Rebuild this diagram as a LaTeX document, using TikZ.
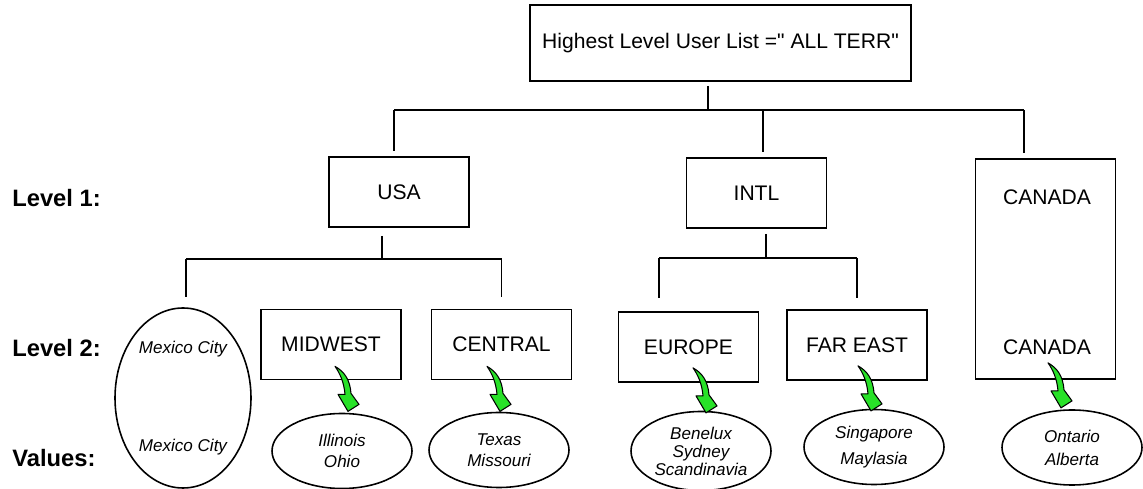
\documentclass[tikz,border=0pt]{standalone}
\usepackage{fontspec}
\setmainfont{Liberation Sans}[Ligatures=TeXOff]
\usetikzlibrary{shapes.geometric}
\definecolor{arrowgreen}{RGB}{40,225,40}
\tikzset{
  box/.style={draw, line width=1pt, minimum width=28mm, minimum height=14mm, inner sep=0pt, font=\fontsize{12}{14}\selectfont},
  vals/.style={draw, ellipse, line width=0.9pt, minimum width=28mm, minimum height=15mm, inner sep=0pt, align=center, font=\fontsize{9.7}{12}\selectfont\itshape},
  lvl/.style={anchor=base west, inner sep=0pt, font=\fontsize{13.5}{16}\selectfont\bfseries},
  conn/.style={line width=1pt},
  valarrow/.pic={
    \draw[fill=arrowgreen, line width=0.6pt, line join=round] (0,0) .. controls (9,5) and (15,13) .. (16,27) -- (24,38) -- (13,45) -- (3,28) -- (10,28) .. controls (9,16) and (5,7) .. (0,0) -- cycle;
  }
}
\begin{document}
\begin{tikzpicture}[x=0.2mm, y=-0.2mm]
\useasboundingbox (0,0) rectangle (1143,489);

% row labels
\node[lvl] (lvlA) at (12,207) {Level 1:};
\node[lvl] (lvlB) at (12,357) {Level 2:};
\node[lvl] (lvlC) at (12,467) {Values:};

% top of the tree
\node[box, minimum width=76.2mm, minimum height=15.2mm] (top) at (720.5,43) {Highest Level User List =" ALL TERR"};

% level 1
\node[box] (usa) at (399,192) {USA};
\node[box] (intl) at (756.5,193) {INTL};
\node[box, minimum height=44mm] (canada) at (1045.5,269) {};
\node[font=\fontsize{12}{14}\selectfont] (canadaA) at (1047,197) {CANADA};
\node[font=\fontsize{12}{14}\selectfont] (canadaB) at (1047,347) {CANADA};

% level 2
\node[vals, minimum width=27.2mm, minimum height=36mm] (mexico) at (183,398) {Mexico City\\[44pt]Mexico City};
\node[box] (midwest) at (331,344.5) {MIDWEST};
\node[box] (central) at (501.5,344.5) {CENTRAL};
\node[box] (europe) at (688.5,347) {EUROPE};
\node[box] (fareast) at (857,345) {FAR EAST};

% values
\node[vals] (illinois) at (342,451) {Illinois\\Ohio};
\node[vals] (texas) at (499,450) {Texas\\Missouri};
\node[vals, minimum height=15.8mm, font=\fontsize{9.7}{10.2}\selectfont\itshape] (benelux) at (701,451) {Benelux\\Sydney\\Scandinavia};
\node[vals] (singapore) at (874,447) {Singapore\\[2.8pt]Maylasia};
\node[vals] (ontario) at (1072,447.5) {Ontario\\[1.1pt]Alberta};

% connectors
\coordinate (hubT) at (708,110);
\coordinate (hubU) at (382,259);
\coordinate (hubI) at (766,258);

\draw[conn, shorten <=0.8mm] (hubT |- top.south) -- (hubT);
\draw[conn] ([xshift=-1mm]usa.north |- hubT) -- ([xshift=-4.3mm]canada.north |- hubT);
\foreach \n/\dx in {usa/-1mm, intl/1.3mm, canada/-4.3mm}
  \draw[conn, shorten >=1mm] ([xshift=\dx]\n.north |- hubT) -- ([xshift=\dx]\n.north);

\draw[conn, shorten <=1.6mm] (hubU |- usa.south) -- (hubU);
\draw[conn] ([xshift=0.6mm]mexico.north |- hubU) -- (central.north |- hubU);
\draw[conn, shorten >=2mm] ([xshift=0.6mm]mexico.north |- hubU) -- ([xshift=0.6mm]mexico.north);
\draw[conn, shorten >=2.4mm] (central.north |- hubU) -- (central.north);

\draw[conn, shorten <=1mm] (hubI |- intl.south) -- (hubI);
\draw[conn] ([xshift=-5.9mm]europe.north |- hubI) -- (fareast.north |- hubI);
\draw[conn, shorten >=2.6mm] ([xshift=-5.9mm]europe.north |- hubI) -- ([xshift=-5.9mm]europe.north);
\draw[conn, shorten >=2.2mm] (fareast.north |- hubI) -- (fareast.north);

% green arrows down to the values
\pic at ([xshift=0.8mm, yshift=2.8mm]midwest.south) {valarrow};
\pic at ([xshift=-2.9mm, yshift=2.8mm]central.south) {valarrow};
\pic at ([xshift=0.9mm, yshift=3mm]europe.south) {valarrow};
\pic at ([xshift=0.2mm, yshift=3mm]fareast.south) {valarrow};
\pic at ([xshift=0.5mm, yshift=3.4mm]canada.south) {valarrow};
\end{tikzpicture}
\end{document}
